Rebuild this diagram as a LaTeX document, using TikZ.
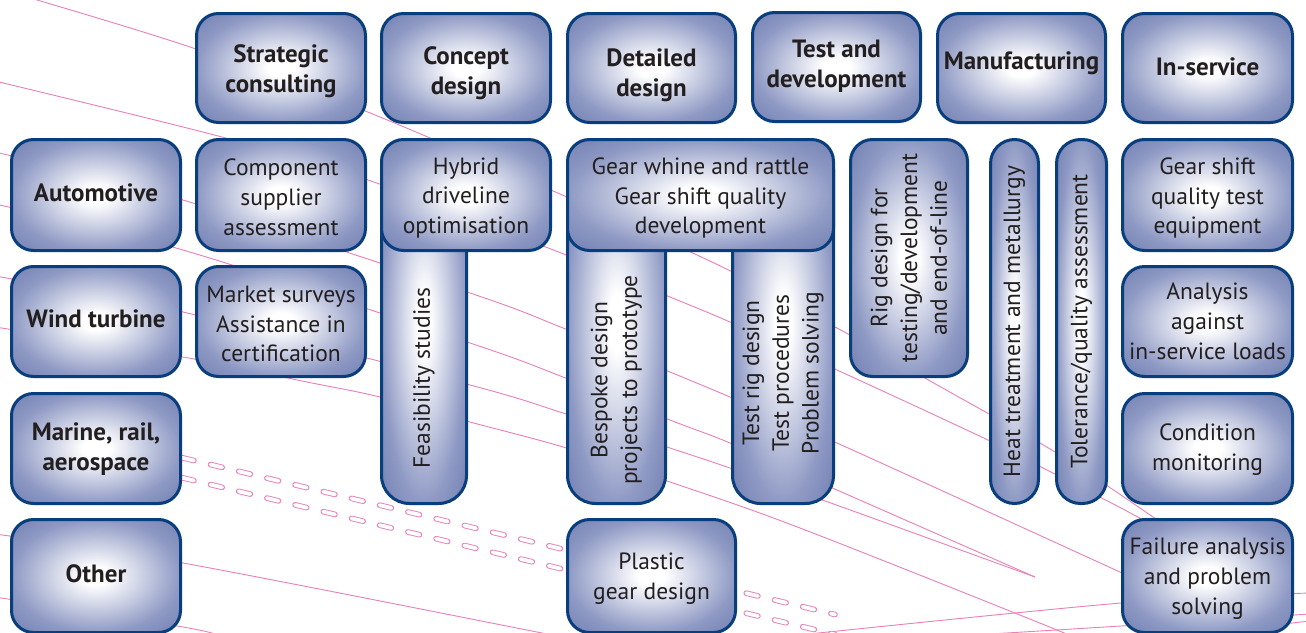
\documentclass[tikz,border=0pt]{standalone}
\usepackage{fontspec}
\setmainfont{PT Sans}
\definecolor{boxouter}{RGB}{116,129,178}
\definecolor{boxmid}{RGB}{142,153,196}
\definecolor{boxborder}{RGB}{8,62,126}
\definecolor{pinkline}{RGB}{232,128,185}
\definecolor{txtcol}{RGB}{35,31,32}
\pgfdeclareradialshading{boxshade}{\pgfpoint{0bp}{0bp}}{color(0bp)=(white); color(4bp)=(white); color(25bp)=(boxmid); color(35bp)=(boxouter); color(50bp)=(boxouter)}
\begin{document}
\begin{tikzpicture}[x=1pt,y=-1pt,
  box/.style={draw=boxborder, line width=3pt, rounded corners=22pt, shade, shading=boxshade, inner sep=0pt},
  colbox/.style={box, rounded corners=28pt},
  pillbox/.style={box, rounded corners=24pt},
  lbl/.style={text=txtcol, align=center, inner sep=0pt, font=\fontsize{23.5}{29.8}\selectfont},
  hlbl/.style={text=txtcol, align=center, inner sep=0pt, font=\fontsize{25}{29.8}\selectfont\bfseries},
  vlbl/.style={lbl, rotate=90},
  pk/.style={draw=pinkline, line width=0.9pt},
  capsout/.style={draw=pinkline, line width=5.6pt, line cap=round, dash pattern=on 12pt off 17pt, dash phase=24.8pt},
  capsin/.style={draw=white, line width=3.8pt, line cap=round, dash pattern=on 12pt off 17pt, dash phase=24.8pt},
]
\useasboundingbox (0,0) rectangle (1306,632);
\fill[white] (0,0) rectangle (1306,632);
\clip (0,0) rectangle (1306,632);

% decorative pink lines
\draw[pk] plot[smooth, tension=0.55] coordinates {(20,-5) (193,48) (380,117) (697,255) (837,328) (932,382) (1055,452) (1153,517) (1190,545)};
\draw[pk] plot[smooth, tension=0.55] coordinates {(-5,81) (222,137) (368,180) (556,251) (670,297) (730,322) (837,370) (988,440) (1043,468) (1121,508) (1180,540)};
\draw[pk] plot[smooth, tension=0.55] coordinates {(-5,152) (183,200) (470,293) (563,328) (670,372) (730,397) (837,443) (1120,572) (1160,590)};
\draw[pk] plot[smooth, tension=0.55] coordinates {(-5,204) (183,250) (470,343) (563,377) (670,420) (730,443) (837,490) (1035,577)};
\draw[pk] plot[smooth, tension=0.55] coordinates {(-5,276) (183,312) (470,385) (563,413) (670,448) (730,468) (828,502) (1035,577)};
\draw[pk] plot[smooth, tension=0.55] coordinates {(-5,327) (183,357) (307,382) (380,397) (470,422) (563,447) (670,482) (800,528) (1057,630) (1065,636)};
\draw[pk] plot[smooth, tension=0.55] coordinates {(-5,534) (183,563) (537,632) (560,637)};
\draw[pk] plot[smooth, tension=0.55] coordinates {(-5,597) (183,627) (220,636)};
\draw[pk] plot[smooth, tension=0.55] coordinates {(780,637) (1121,603) (1310,593)};
\draw[pk] plot[smooth, tension=0.55] coordinates {(990,634) (1121,626) (1310,614)};
\draw[pk] (1230,630) -- (1310,621);

% dashed capsule lines
\draw[capsout] (150,450) -- (835,614.5);
\draw[capsin] (150,450) -- (835,614.5);
\draw[capsout] (150,470) -- (835,634.5);
\draw[capsin] (150,470) -- (835,634.5);

% header row
\node[box, minimum width=169pt, minimum height=109pt] (sc) at (281,68) {};
\node[hlbl] (sct) at (281,71) {Strategic\\consulting};
\node[box, minimum width=169pt, minimum height=109pt] (cd) at (466,68) {};
\node[hlbl] (cdt) at (466,73) {Concept\\design};
\node[box, minimum width=168pt, minimum height=109pt] (dd) at (651.5,68) {};
\node[hlbl] (ddt) at (651.5,75) {Detailed\\design};
\node[box, minimum width=168pt, minimum height=109pt] (td) at (836.5,67) {};
\node[hlbl] (tdt) at (836.5,66.5) {Test and\\development};
\node[box, minimum width=168pt, minimum height=109pt] (mf) at (1021.5,68) {};
\node[hlbl] (mft) at (1021.5,63) {Manufacturing};
\node[box, minimum width=170pt, minimum height=109pt] (is) at (1207.5,68) {};
\node[hlbl] (ist) at (1207.5,67) {In-service};

% left column
\node[box, minimum width=169pt, minimum height=111pt] (auto) at (96,195) {};
\node[hlbl] (autot) at (96,193) {Automotive};
\node[box, minimum width=169pt, minimum height=110pt] (wind) at (96,321.5) {};
\node[hlbl] (windt) at (96,318.5) {Wind turbine};
\node[box, minimum width=169pt, minimum height=110pt] (marine) at (96,448.5) {};
\node[hlbl] (marinet) at (96,449.5) {Marine, rail,\\aerospace};
\node[box, minimum width=169pt, minimum height=113pt] (other) at (96,576) {};
\node[hlbl] (othert) at (96,574) {Other};

% consulting column
\node[box, minimum width=169pt, minimum height=111pt] (comp) at (281,195) {};
\node[lbl] (compt) at (281,197) {Component\\supplier\\assessment};
\node[box, minimum width=169pt, minimum height=110pt] (mkt) at (281,321.5) {};
\node[lbl] (mktt) at (281,324) {Market surveys\\Assistance in\\certification};

% tall columns (drawn first, covered by boxes above)
\node[colbox, minimum width=85pt, minimum height=362pt] (feas) at (424,322.5) {};
\node[vlbl] (feast) at (424,378) {Feasibility studies};
\node[colbox, minimum width=98pt, minimum height=362pt] (besp) at (616.5,322.5) {};
\node[vlbl] (bespt) at (616.5,380) {Bespoke design\\projects to prototype};
\node[colbox, minimum width=101pt, minimum height=362pt] (trig) at (783,322.5) {};
\node[vlbl] (trigt) at (783,373) {Test rig design\\Test procedures\\Problem solving};

% concept / detailed
\node[box, minimum width=169pt, minimum height=111pt] (hyb) at (466,195) {};
\node[lbl] (hybt) at (466,198) {Hybrid\\driveline\\optimisation};
\node[box, minimum width=266pt, minimum height=111pt] (gw) at (700.5,195) {};
\node[lbl] (gwt) at (700.5,198) {Gear whine and rattle\\Gear shift quality\\development};
\node[box, minimum width=168pt, minimum height=113pt] (plastic) at (651.5,576) {};
\node[lbl] (plastict) at (651.5,579) {Plastic\\gear design};

% test / manufacturing
\node[box, minimum width=117pt, minimum height=237pt] (rig) at (909,258) {};
\node[vlbl] (rigt) at (909,258) {Rig design for\\testing/development\\and end-of-line};
\node[pillbox, minimum width=48pt, minimum height=364pt] (heat) at (1014.5,321.5) {};
\node[vlbl] (heatt) at (1014.5,321.5) {Heat treatment and metallurgy};
\node[pillbox, minimum width=50pt, minimum height=364pt] (tol) at (1081.5,321.5) {};
\node[vlbl] (tolt) at (1081.5,321.5) {Tolerance/quality assessment};

% in-service column
\node[box, minimum width=170pt, minimum height=111pt] (gsq) at (1207.5,195) {};
\node[lbl] (gsqt) at (1207.5,198) {Gear shift\\quality test\\equipment};
\node[box, minimum width=170pt, minimum height=110pt] (ana) at (1207.5,321.5) {};
\node[lbl] (anat) at (1207.5,321) {Analysis\\against\\in-service loads};
\node[box, minimum width=170pt, minimum height=110pt] (cond) at (1207.5,448.5) {};
\node[lbl] (condt) at (1207.5,449.5) {Condition\\monitoring};
\node[box, minimum width=170pt, minimum height=113pt] (fail) at (1207.5,576) {};
\node[lbl] (failt) at (1207.5,578.5) {Failure analysis\\and problem\\solving};
\end{tikzpicture}
\end{document}
